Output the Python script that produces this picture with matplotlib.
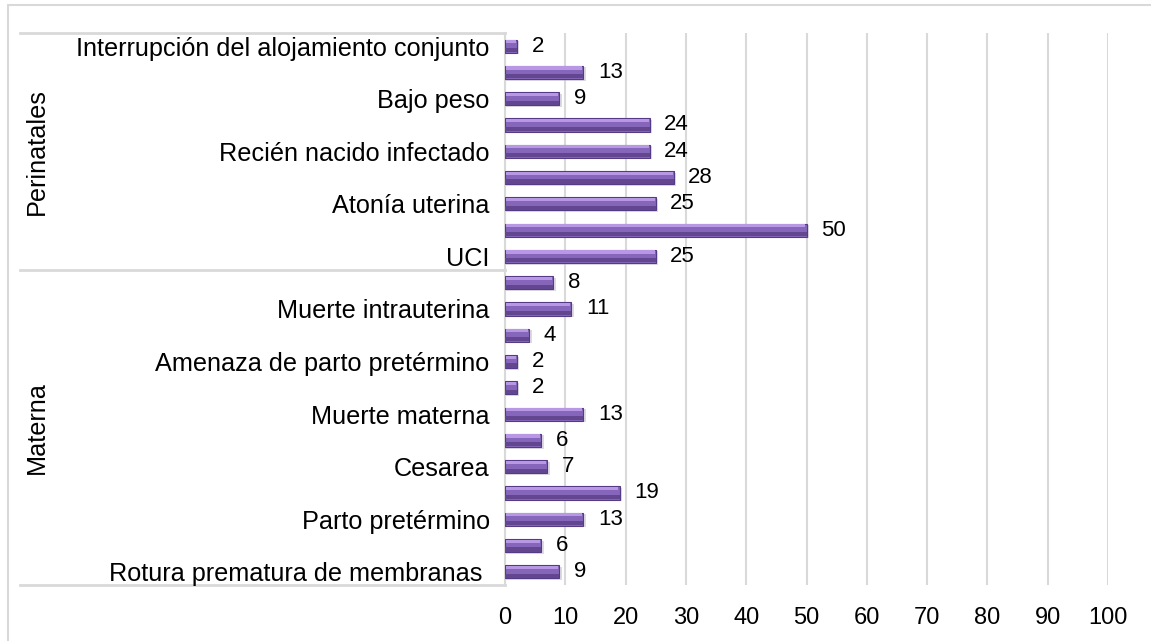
import matplotlib.pyplot as plt
from matplotlib.patches import Rectangle

# datos, de abajo hacia arriba
categorias = ["Rotura prematura de membranas ", "", "Parto pretérmino", "", "Cesarea", "",
              "Muerte materna", "", "Amenaza de parto pretérmino", "", "Muerte intrauterina", "",
              "UCI", "", "Atonía uterina", "", "Recién nacido infectado", "", "Bajo peso", "",
              "Interrupción del alojamiento conjunto"]
valores = [9, 6, 13, 19, 7, 6, 13, 2, 2, 4, 11, 8,
           25, 50, 25, 28, 24, 24, 9, 13, 2]
grupos = ["Materna", "Perinatales"]
n_grupo = [12, 9]
x_ticks = [0, 10, 20, 30, 40, 50, 60, 70, 80, 90, 100]

plt.rcParams['font.family'] = ['Liberation Sans', 'DejaVu Sans']

fig = plt.figure(figsize=(11.51, 6.41), dpi=100)
ax = fig.add_axes([505/1151, 56/641, 603/1151, 552/641])

y = list(range(len(valores)))
gris = "#d9d9d9"

# barras con efecto bisel: sombra, cuerpo, borde claro arriba y oscuro abajo
ax.barh([v - 0.06 for v in y], [v + 0.4 for v in valores], height=0.5,
        color="#bdb6c8", alpha=0.5, linewidth=0, zorder=2)
ax.barh(y, valores, height=0.5, color="#8666bb", edgecolor="#553a85", linewidth=0.8, zorder=3)
ax.barh([v + 0.17 for v in y], [max(v - 0.4, 0.3) for v in valores], height=0.12,
        left=0.2, color="#b898e4", linewidth=0, zorder=4)
ax.barh([v - 0.15 for v in y], valores, height=0.16, color="#62468f", linewidth=0, zorder=4)

for yi, v in zip(y, valores):
    ax.text(v + 2.4, yi, str(v), va="center", ha="left", fontsize=16, color="black", zorder=5)

ax.set_xlim(0, 100)
ax.set_ylim(-0.5, len(valores) - 0.5)
ax.set_xticks(x_ticks)
ax.set_xticklabels([str(t) for t in x_ticks], fontsize=17)
ax.set_yticks(y)
ax.set_yticklabels(categorias, fontsize=18.2)
ax.tick_params(axis="x", length=0, pad=16)
ax.tick_params(axis="y", length=0, pad=11)
ax.xaxis.grid(True, color=gris, linewidth=1.5, zorder=0)
for s in ["top", "right", "bottom"]:
    ax.spines[s].set_visible(False)
ax.spines["left"].set_color(gris)
ax.spines["left"].set_linewidth(1.5)

# cuadro de grupos a la izquierda
x_izq = (20 - 505) / 603
limites = [-0.5]
for n in n_grupo:
    limites.append(limites[-1] + n)
for b in limites:
    ax.plot([x_izq, 0], [b, b], transform=ax.get_yaxis_transform(), color=gris,
            linewidth=2, clip_on=False, zorder=1)
for g, a, b in zip(grupos, limites[:-1], limites[1:]):
    ax.text((37 - 505) / 603, (a + b) / 2, g, rotation=90, va="center", ha="center",
            fontsize=18.2, transform=ax.get_yaxis_transform())

# borde del grafico
fig.patches.append(Rectangle((8/1151, -0.1), 1.2, 1.1 - 5/641, transform=fig.transFigure,
                             fill=False, edgecolor=gris, linewidth=1.5))

fig.savefig("out.png", dpi=100)
